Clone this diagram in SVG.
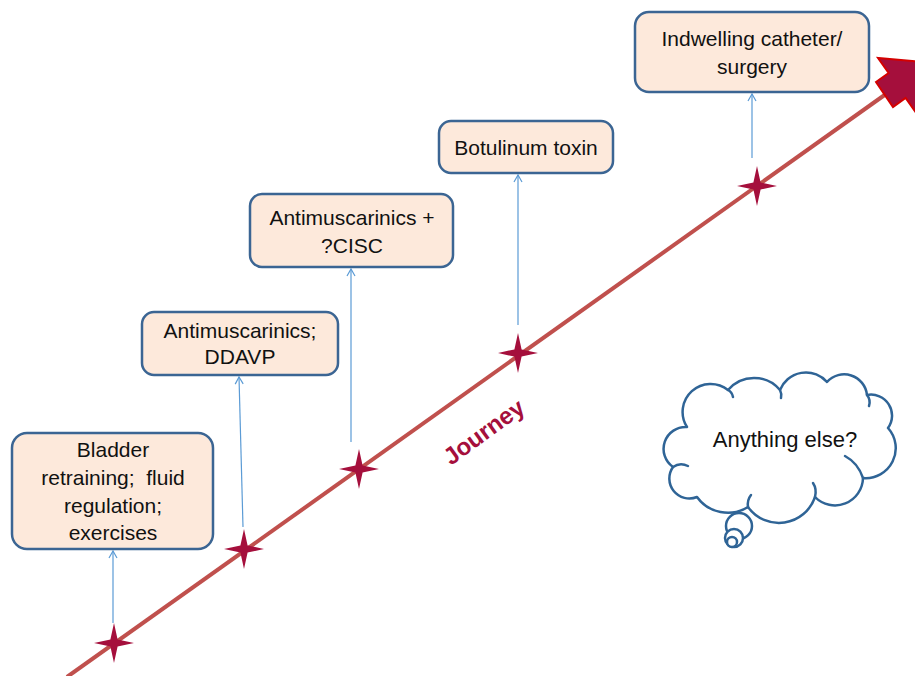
<svg xmlns="http://www.w3.org/2000/svg" width="915" height="676" viewBox="0 0 915 676">
<defs>
<style>
.box{fill:#FDE9DB;stroke:#3B6593;stroke-width:2.5}
.lbl{font-family:"Liberation Sans",Arial,sans-serif;font-size:21px;fill:#111;text-anchor:middle}
.conn{stroke:#5B9BD5;stroke-width:1.2;fill:none;marker-end:url(#open)}
.star{fill:#A50F3C}
.cloud{fill:#fff;stroke:#2F6496;stroke-width:2.5;stroke-linejoin:round}
.hook{fill:none;stroke:#2F6496;stroke-width:2.5;stroke-linecap:round}
</style>
<marker id="open" markerUnits="userSpaceOnUse" markerWidth="12" markerHeight="12" refX="8" refY="5" orient="auto">
<path d="M1,1 L8,5 L1,9" fill="none" stroke="#5B9BD5" stroke-width="1.2"/>
</marker>
<path id="st" d="M0,-20 L3.6,-3.6 L20,0 L3.6,3.6 L0,20 L-3.6,3.6 L-20,0 L-3.6,-3.6 Z"/>
</defs>
<rect width="915" height="676" fill="#fff"/>

<g id="journey-line">
<line x1="67" y1="677" x2="886" y2="94" stroke="#C0504D" stroke-width="4"/>
<path d="M876,82 L888.6,73 L878,58 L929,62.6 L916.3,113 L905.6,98 L893,107 Z" fill="#A50F3C" stroke="#D40000" stroke-width="2" stroke-linejoin="miter"/>
<text x="484" y="440" transform="rotate(-36 484 432)" font-family="Liberation Sans,Arial,sans-serif" font-weight="bold" font-size="24" fill="#A50F3C" text-anchor="middle">Journey</text>
</g>

<g id="stars">
<use href="#st" class="star" x="114" y="643"/>
<use href="#st" class="star" x="244" y="549"/>
<use href="#st" class="star" x="359" y="469"/>
<use href="#st" class="star" x="518" y="353"/>
<use href="#st" class="star" x="757" y="186"/>
</g>

<g id="connectors">
<line class="conn" x1="113" y1="623" x2="113" y2="551"/>
<line class="conn" x1="243" y1="527" x2="239" y2="377"/>
<line class="conn" x1="351" y1="442" x2="351" y2="269"/>
<line class="conn" x1="518" y1="325" x2="518" y2="175"/>
<line class="conn" x1="752" y1="158" x2="752" y2="94"/>
</g>

<g id="node1">
<rect class="box" x="12" y="433" width="201" height="116" rx="15"/>
<text class="lbl" xml:space="preserve"><tspan x="113" y="457">Bladder</tspan><tspan x="113" y="485">retraining;  fluid</tspan><tspan x="113" y="513">regulation;</tspan><tspan x="113" y="540">exercises</tspan></text>
</g>

<g id="node2">
<rect class="box" x="142" y="312" width="196" height="63" rx="12"/>
<text class="lbl"><tspan x="240" y="338">Antimuscarinics;</tspan><tspan x="240" y="364">DDAVP</tspan></text>
</g>

<g id="node3">
<rect class="box" x="250" y="194" width="203" height="73" rx="12"/>
<text class="lbl"><tspan x="352" y="225">Antimuscarinics +</tspan><tspan x="352" y="253">?CISC</tspan></text>
</g>

<g id="node4">
<rect class="box" x="439" y="121" width="174" height="52" rx="12"/>
<text class="lbl" x="526" y="155">Botulinum toxin</text>
</g>

<g id="node5">
<rect class="box" x="635" y="12" width="234" height="80" rx="14"/>
<text class="lbl"><tspan x="752" y="46">Indwelling catheter/</tspan><tspan x="752" y="74">surgery</tspan></text>
</g>

<g id="cloud">
<path class="cloud" d="M687,427 A22,22 0 0 0 673,467 A20,20 0 0 0 697,497 A38,38 0 0 0 748,507 A38,38 0 0 0 815,497 A28,28 0 0 0 863,478 A30,30 0 0 0 888,428 A21,21 0 0 0 867,395 A23,23 0 0 0 827,382 A28,28 0 0 0 780,390 A34,34 0 0 0 728,390 A28,28 0 0 0 687,427 Z"/>
<path class="hook" d="M845,456 Q858,463 863,478"/>
<path class="hook" d="M815,497 Q817,489 813,483"/>
<path class="hook" d="M748,507 Q747,500 751,495"/>
<path class="hook" d="M673,467 Q680,462 688,466"/>
<path class="hook" d="M867,395 Q871,400 869,406"/>
<path class="hook" d="M780,390 Q782,394 781,398"/>
<path class="hook" d="M728,390 Q732,392 733,397"/>
<circle cx="739" cy="526" r="13" fill="#fff" stroke="#2F6496" stroke-width="2.5"/>
<circle cx="734" cy="538" r="9" fill="#fff" stroke="#2F6496" stroke-width="2.5"/>
<circle cx="732" cy="542" r="5" fill="#fff" stroke="#2F6496" stroke-width="2.5"/>
<text x="785" y="447" font-family="Liberation Sans,Arial,sans-serif" font-size="22" fill="#111" text-anchor="middle">Anything else?</text>
</g>
</svg>
